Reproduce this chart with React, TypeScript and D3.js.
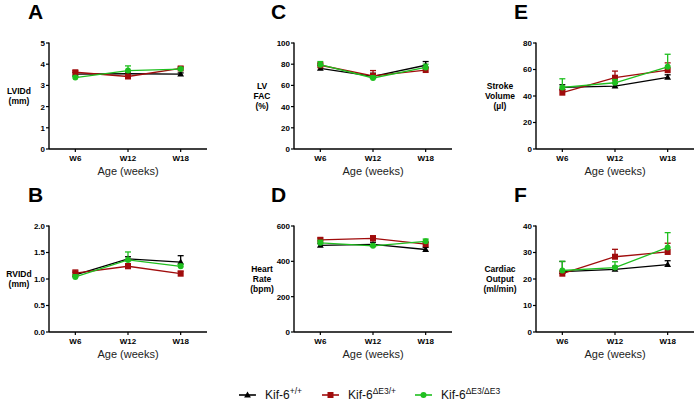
import React from "react";
import * as d3 from "d3";

const weeks = ["W6", "W12", "W18"];
const seriesNames = ["+/+", "ΔE3/+", "ΔE3/ΔE3"];
const seriesColors = ["#000000", "#a00c0c", "#1fbf1f"];
const seriesShapes = ["triangle", "square", "circle"];

// Panel A: LVIDd (mm)
const lvidWT = [3.53, 3.55, 3.53];
const lvidHet = [3.62, 3.42, 3.8];
const lvidHom = [3.37, 3.7, 3.77];
const lvidWTErr = [0.08, 0.08, 0.06];
const lvidHetErr = [0.07, 0.08, 0.07];
const lvidHomErr = [0.06, 0.22, 0.06];

// Panel B: RVIDd (mm)
const rvidWT = [1.08, 1.38, 1.32];
const rvidHet = [1.11, 1.24, 1.1];
const rvidHomv = [1.04, 1.36, 1.24];
const rvidWTErr = [0.05, 0.04, 0.12];
const rvidHetErr = [0.06, 0.05, 0.05];
const rvidHomErr = [0.04, 0.15, 0.04];

// Panel C: LV FAC (%)
const facWT = [76, 68.5, 79];
const facHet = [79, 69, 74.5];
const facHom = [79.5, 67, 77];
const facWTErr = [3, 3, 3.5];
const facHetErr = [2, 5, 2];
const facHomErr = [3, 2, 3];

// Panel D: Heart rate (bpm)
const hrWT = [490, 496, 467];
const hrHet = [522, 530, 497];
const hrHom = [505, 488, 513];
const hrWTErr = [10, 12, 12];
const hrHetErr = [10, 15, 10];
const hrHomErr = [14, 8, 13];

// Panel E: Stroke volume (µl)
const svWT = [46.5, 47.5, 54];
const svHet = [42.5, 53.8, 59.5];
const svHom = [46.5, 50, 62];
const svWTErr = [2, 2, 2];
const svHetErr = [2, 5, 5.5];
const svHomErr = [6.5, 2.5, 9.5];

// Panel F: Cardiac output (ml/min)
const coWT = [22.8, 23.6, 25.4];
const coHet = [22, 28.4, 30.2];
const coHom = [23.2, 24.3, 31.9];
const coWTErr = [3.8, 1.2, 1.5];
const coHetErr = [1, 2.8, 3.3];
const coHomErr = [3.5, 2.2, 5.6];

const panels = [
  { letter: "A", col: 0, row: 0, label: ["LVIDd", "(mm)"], max: 5, ticks: [0, 1, 2, 3, 4, 5], fmt: "d",
    values: [lvidWT, lvidHet, lvidHom], errs: [lvidWTErr, lvidHetErr, lvidHomErr] },
  { letter: "B", col: 0, row: 1, label: ["RVIDd", "(mm)"], max: 2, ticks: [0, 0.5, 1, 1.5, 2], fmt: ".1f",
    values: [rvidWT, rvidHet, rvidHomv], errs: [rvidWTErr, rvidHetErr, rvidHomErr] },
  { letter: "C", col: 1, row: 0, label: ["LV", "FAC", "(%)"], max: 100, ticks: [0, 20, 40, 60, 80, 100], fmt: "d",
    values: [facWT, facHet, facHom], errs: [facWTErr, facHetErr, facHomErr] },
  { letter: "D", col: 1, row: 1, label: ["Heart", "Rate", "(bpm)"], max: 600, ticks: [0, 200, 400, 600], fmt: "d",
    values: [hrWT, hrHet, hrHom], errs: [hrWTErr, hrHetErr, hrHomErr] },
  { letter: "E", col: 2, row: 0, label: ["Stroke", "Volume", "(µl)"], max: 80, ticks: [0, 20, 40, 60, 80], fmt: "d",
    values: [svWT, svHet, svHom], errs: [svWTErr, svHetErr, svHomErr] },
  { letter: "F", col: 2, row: 1, label: ["Cardiac", "Output", "(ml/min)"], max: 40, ticks: [0, 10, 20, 30, 40], fmt: "d",
    values: [coWT, coHet, coHom], errs: [coWTErr, coHetErr, coHomErr] },
];

const colAxisX = [49, 294, 536];
const colLetterX = [28, 271, 514];
const colLabelX = [19, 262, 500];
const rowTop = [43, 226];
const plotH = 106;
const plotW = 158;

function Marker({ shape, x, y, color }: { shape: string; x: number; y: number; color: string }) {
  if (shape === "triangle") {
    return <path d={`M${x},${y - 3.6}L${x + 3.4},${y + 2.4}L${x - 3.4},${y + 2.4}Z`} fill={color} />;
  }
  if (shape === "square") {
    return <rect x={x - 3} y={y - 3} width={6} height={6} fill={color} />;
  }
  return <circle cx={x} cy={y} r={3} fill={color} />;
}

function Panel({ p }: { p: (typeof panels)[number] }) {
  const x0 = colAxisX[p.col];
  const top = rowTop[p.row];
  const bottom = top + plotH;
  const x = d3.scaleBand<string>().domain(weeks).range([x0, x0 + plotW]).padding(0);
  const y = d3.scaleLinear().domain([0, p.max]).range([bottom, top]);
  const cx = (w: string) => (x(w) as number) + x.bandwidth() / 2;
  const fmt = d3.format(p.fmt);
  const line = d3
    .line<number>()
    .x((_, i) => cx(weeks[i]))
    .y((v) => y(v));
  const midY = (top + bottom) / 2;
  const lh = 9.8;
  const n = p.label.length;
  return (
    <g>
      <text x={colLetterX[p.col]} y={top - 24} fontSize={21} fontWeight="bold" fontFamily="Liberation Sans, Arial, sans-serif">
        {p.letter}
      </text>
      {p.label.map((t, i) => (
        <text
          key={i}
          x={colLabelX[p.col]}
          y={midY + (i - (n - 1) / 2) * lh + 3}
          textAnchor="middle"
          fontSize={8.5}
          fontWeight="bold"
          fontFamily="Liberation Sans, Arial, sans-serif"
        >
          {t}
        </text>
      ))}
      {/* y axis */}
      <line x1={x0} x2={x0} y1={top - 0.5} y2={bottom} stroke="#000" strokeWidth={1.4} />
      {p.ticks.map((t) => (
        <g key={t}>
          <line x1={x0 - 3} x2={x0} y1={y(t)} y2={y(t)} stroke="#000" strokeWidth={1.2} />
          <text
            x={x0 - 4}
            y={y(t) + 2.9}
            textAnchor="end"
            fontSize={8}
            fontWeight="bold"
            fontFamily="Liberation Sans, Arial, sans-serif"
          >
            {fmt(t)}
          </text>
        </g>
      ))}
      {/* x axis */}
      <line x1={x0} x2={x0 + plotW} y1={bottom} y2={bottom} stroke="#000" strokeWidth={1.4} />
      {weeks.map((w) => (
        <g key={w}>
          <line x1={cx(w)} x2={cx(w)} y1={bottom} y2={bottom + 3} stroke="#000" strokeWidth={1.2} />
          <text
            x={cx(w)}
            y={bottom + 12}
            textAnchor="middle"
            fontSize={8}
            fontWeight="bold"
            fontFamily="Liberation Sans, Arial, sans-serif"
          >
            {w}
          </text>
        </g>
      ))}
      <text
        x={cx(weeks[1])}
        y={bottom + 26}
        textAnchor="middle"
        fontSize={11}
        fontFamily="Liberation Sans, Arial, sans-serif"
        fill="#222"
      >
        Age (weeks)
      </text>
      {/* series */}
      {p.values.map((vals, si) => (
        <g key={si}>
          <path d={line(vals) || ""} fill="none" stroke={seriesColors[si]} strokeWidth={1.3} />
          {vals.map((v, i) => {
            const xx = cx(weeks[i]);
            const yTop = y(v + p.errs[si][i]);
            return (
              <g key={i}>
                <line x1={xx} x2={xx} y1={y(v)} y2={yTop} stroke={seriesColors[si]} strokeWidth={1.3} />
                <line x1={xx - 3} x2={xx + 3} y1={yTop} y2={yTop} stroke={seriesColors[si]} strokeWidth={1.3} />
                <Marker shape={seriesShapes[si]} x={xx} y={y(v)} color={seriesColors[si]} />
              </g>
            );
          })}
        </g>
      ))}
    </g>
  );
}

const legendX = [239, 322, 415];

export default function App() {
  return (
    <svg
      width={699}
      height={405}
      style={{ position: "absolute", left: 0, top: 0, background: "#fff" }}
      fontFamily="Liberation Sans, Arial, sans-serif"
    >
      <rect width={699} height={405} fill="#fff" />
      {panels.map((p) => (
        <Panel key={p.letter} p={p} />
      ))}
      {seriesNames.map((s, i) => (
        <g key={s}>
          <line x1={legendX[i]} x2={legendX[i] + 17} y1={395} y2={395} stroke={seriesColors[i]} strokeWidth={1.6} />
          <Marker shape={seriesShapes[i]} x={legendX[i] + 8.5} y={395} color={seriesColors[i]} />
          <text x={legendX[i] + 26} y={399} fontSize={12} fill="#111">
            Kif-6
            <tspan dy={-5} fontSize={8.5}>
              {s}
            </tspan>
          </text>
        </g>
      ))}
    </svg>
  );
}
